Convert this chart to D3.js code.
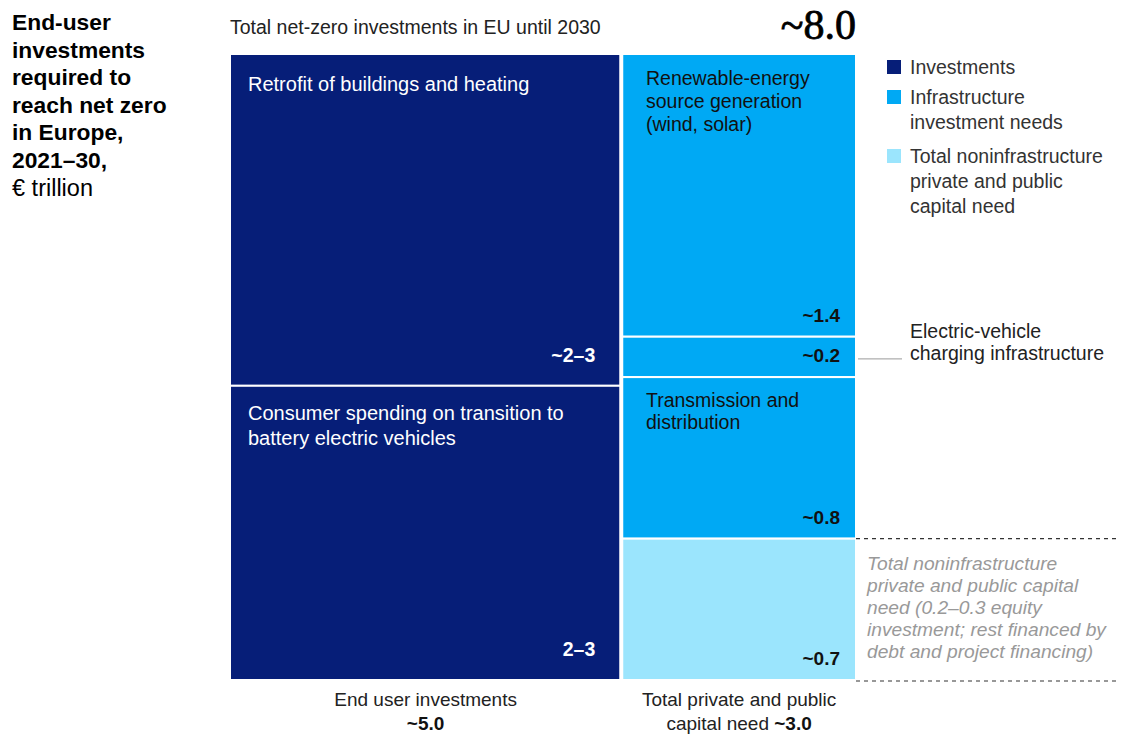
<!DOCTYPE html>
<html>
<head>
<meta charset="utf-8">
<script src="https://cdn.jsdelivr.net/npm/d3@7"></script>
<style>
  html, body { margin: 0; padding: 0; background: #fff; }
  svg { display: block; font-family: "Liberation Sans", Arial, sans-serif; }
</style>
</head>
<body>
<svg id="chart" width="1123" height="734"></svg>
<script>
// Column totals (€ trillion)
const columns = ["End user investments", "Total private and public capital need"];
const columnTotals = [5.0, 3.0];

// Segments of the end-user column (ranges ~2–3 each; central estimates)
const endUserLabels = ["Retrofit of buildings and heating", "Consumer spending on transition to battery electric vehicles"];
const endUserValues = [2.65, 2.35];
const endUserValueText = ["~2–3", "2–3"];

// Segments of the capital-need column
const capitalLabels = ["Renewable-energy source generation (wind, solar)", "", "Transmission and distribution", ""];
const capitalValues = [1.4, 0.2, 0.8, 0.7];
const capitalValueText = ["~1.4", "~0.2", "~0.8", "~0.7"];
const capitalKinds = ["infra", "infra", "infra", "noninfra"];

const colors = { invest: "#061e78", infra: "#00a9f4", noninfra: "#9be5fd" };

const svg = d3.select("#chart");

const x = d3.scaleLinear().domain([0, d3.sum(columnTotals)]).range([230, 856]);
const plotTop = 54, plotBottom = 680;

// Title
const title = svg.append("text").attr("x", 12).attr("y", 30)
  .attr("font-size", 22.8).attr("fill", "#000");
["End-user", "investments", "required to", "reach net zero", "in Europe,", "2021–30,"].forEach((t, i) => {
  title.append("tspan").attr("x", 12).attr("dy", i === 0 ? 0 : 27.6).attr("font-weight", "bold").text(t);
});
title.append("tspan").attr("x", 12).attr("dy", 27.6).attr("font-size", 23.5).text("€ trillion");

svg.append("text").attr("x", 230).attr("y", 34).attr("font-size", 19.5).attr("fill", "#222")
  .text("Total net-zero investments in EU until 2030");
svg.append("text").attr("x", 856).attr("y", 39).attr("text-anchor", "end")
  .attr("font-family", "'Liberation Serif', 'DejaVu Serif', serif").attr("font-size", 42)
  .attr("fill", "#000").attr("stroke", "#000").attr("stroke-width", 0.8)
  .text("~" + d3.sum(columnTotals).toFixed(1));

// Multi-line text helper
function lines(g, xPos, yPos, arr, lh, attrs) {
  const t = g.append("text").attr("x", xPos).attr("y", yPos);
  Object.entries(attrs).forEach(([k, v]) => t.attr(k, v));
  arr.forEach((s, i) => t.append("tspan").attr("x", xPos).attr("dy", i === 0 ? 0 : lh).text(s));
  return t;
}

// Column 1: end-user investments
const x0a = x(0), x1a = x(columnTotals[0]);
const yA = d3.scaleLinear().domain([0, d3.sum(endUserValues)]).range([plotTop, plotBottom]);
const stackA = d3.cumsum([0, ...endUserValues]);
const gA = svg.append("g");
endUserValues.forEach((v, i) => {
  gA.append("rect").attr("x", x0a).attr("y", yA(stackA[i]))
    .attr("width", x1a - x0a - 1).attr("height", yA(stackA[i + 1]) - yA(stackA[i]))
    .attr("fill", colors.invest).attr("stroke", "#fff").attr("stroke-width", 2);
});
lines(gA, 248, yA(stackA[0]) + 37, ["Retrofit of buildings and heating"], 25, { "font-size": 20, fill: "#fff" });
lines(gA, 248, yA(stackA[1]) + 34, ["Consumer spending on transition to", "battery electric vehicles"], 25, { "font-size": 20, fill: "#fff" });
endUserValues.forEach((v, i) => {
  gA.append("text").attr("x", x1a - 26).attr("y", yA(stackA[i + 1]) - 24)
    .attr("text-anchor", "end").attr("font-size", 19.5).attr("font-weight", "bold")
    .attr("fill", "#fff").text(endUserValueText[i]);
});

// Column 2: capital need
const x0b = x(columnTotals[0]) + 1, x1b = x(d3.sum(columnTotals));
const yB = d3.scaleLinear().domain([0, d3.sum(capitalValues)]).range([plotTop, plotBottom]);
const stackB = d3.cumsum([0, ...capitalValues]);
const gB = svg.append("g");
capitalValues.forEach((v, i) => {
  gB.append("rect").attr("x", x0b).attr("y", yB(stackB[i]))
    .attr("width", x1b - x0b).attr("height", yB(stackB[i + 1]) - yB(stackB[i]))
    .attr("fill", colors[capitalKinds[i]]).attr("stroke", "#fff").attr("stroke-width", 2);
  gB.append("text").attr("x", x1b - 16).attr("y", yB(stackB[i + 1]) - 15)
    .attr("text-anchor", "end").attr("font-size", 19).attr("font-weight", "bold")
    .attr("fill", "#111").text(capitalValueText[i]);
});
lines(gB, 646, yB(stackB[0]) + 31, ["Renewable-energy", "source generation", "(wind, solar)"], 23, { "font-size": 19.5, fill: "#111" });
lines(gB, 646, yB(stackB[2]) + 30, ["Transmission and", "distribution"], 22, { "font-size": 19.5, fill: "#111" });

// Leader for EV charging segment
const evMid = (yB(stackB[1]) + yB(stackB[2])) / 2 + 2;
svg.append("line").attr("x1", 858).attr("x2", 902).attr("y1", evMid).attr("y2", evMid)
  .attr("stroke", "#999").attr("stroke-width", 1);
lines(svg, 910, 338, ["Electric-vehicle", "charging infrastructure"], 22, { "font-size": 19.5, fill: "#222" });

// Bracket for noninfrastructure segment
[yB(stackB[3]), plotBottom + 1].forEach(yy => {
  svg.append("line").attr("x1", 856).attr("x2", 1117).attr("y1", yy).attr("y2", yy)
    .attr("stroke", "#333").attr("stroke-width", 1.2).attr("stroke-dasharray", "4,4");
});
lines(svg, 867, 570, ["Total noninfrastructure", "private and public capital", "need (0.2–0.3 equity", "investment; rest financed by", "debt and project financing)"], 22,
  { "font-size": 19.2, fill: "#999", "font-style": "italic" });

// Legend
const legend = [
  { key: "invest", lines: ["Investments"], y: 60 },
  { key: "infra", lines: ["Infrastructure", "investment needs"], y: 90 },
  { key: "noninfra", lines: ["Total noninfrastructure", "private and public", "capital need"], y: 149 }
];
legend.forEach(d => {
  svg.append("rect").attr("x", 887).attr("y", d.y).attr("width", 14).attr("height", 14).attr("fill", colors[d.key]);
  lines(svg, 910, d.y + 14, d.lines, 25, { "font-size": 19.5, fill: "#333" });
});

// Column labels
const cA = (x0a + x1a) / 2, cB = (x0b + x1b) / 2;
svg.append("text").attr("x", cA).attr("y", 706).attr("text-anchor", "middle").attr("font-size", 19).attr("fill", "#222").text(columns[0]);
svg.append("text").attr("x", cA).attr("y", 730).attr("text-anchor", "middle").attr("font-size", 19).attr("font-weight", "bold").attr("fill", "#111").text("~" + columnTotals[0].toFixed(1));
svg.append("text").attr("x", cB).attr("y", 706).attr("text-anchor", "middle").attr("font-size", 19).attr("fill", "#222").text("Total private and public");
const lb = svg.append("text").attr("x", cB).attr("y", 730).attr("text-anchor", "middle").attr("font-size", 19).attr("fill", "#222");
lb.append("tspan").text("capital need ");
lb.append("tspan").attr("font-weight", "bold").attr("fill", "#111").text("~" + columnTotals[1].toFixed(1));
</script>
</body>
</html>
